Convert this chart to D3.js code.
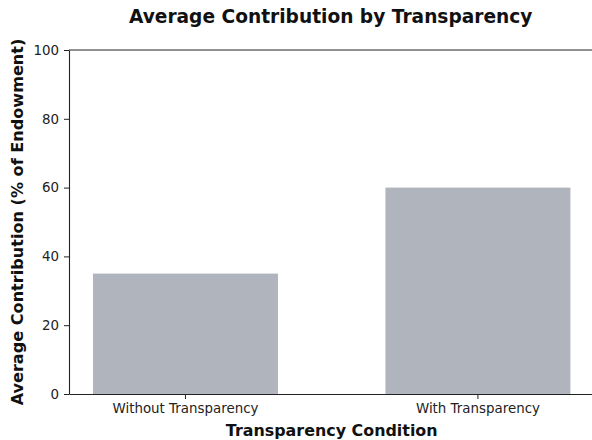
<!DOCTYPE html>
<html>
<head>
<meta charset="utf-8">
<script src="https://cdn.jsdelivr.net/npm/d3@7"></script>
<style>
  body { margin: 0; background: #fff; }
  svg { display: block; font-family: "DejaVu Sans", sans-serif; }
</style>
</head>
<body>
<svg id="chart" width="592" height="440"></svg>
<script>
const categories = [`Without Transparency`, `With Transparency`];
const contributions = [35, 60];
const yTicks = [0, 20, 40, 60, 80, 100];

const width = 592;
const height = 440;
const plotLeft = 69;
const plotRight = 594.4;
const plotTop = 50;
const plotBottom = 394;

const svg = d3.select(`#chart`);

const xScale = d3.scaleBand()
    .domain(categories)
    .range([plotLeft, plotRight])
    .paddingInner(0.3675)
    .paddingOuter(0.082);

const yScale = d3.scaleLinear()
    .domain([0, 100])
    .range([plotBottom, plotTop]);

// bars
svg.append(`g`)
    .selectAll(`rect`)
    .data(categories)
    .enter()
    .append(`rect`)
    .attr(`x`, d => xScale(d))
    .attr(`y`, (d, i) => yScale(contributions[i]))
    .attr(`width`, xScale.bandwidth())
    .attr(`height`, (d, i) => yScale(0) - yScale(contributions[i]))
    .attr(`fill`, `#afb4bd`);

// top spine
svg.append(`line`)
    .attr(`x1`, plotLeft).attr(`x2`, plotRight)
    .attr(`y1`, plotTop).attr(`y2`, plotTop)
    .attr(`stroke`, `#222`).attr(`stroke-width`, 1);

const xAxis = svg.append(`g`)
    .attr(`transform`, `translate(0, ${plotBottom})`)
    .call(d3.axisBottom(xScale).tickSize(5).tickPadding(4).tickSizeOuter(0));

const yAxis = svg.append(`g`)
    .attr(`transform`, `translate(${plotLeft}, 0)`)
    .call(d3.axisLeft(yScale).tickValues(yTicks).tickSize(5).tickPadding(5).tickSizeOuter(0));

[xAxis, yAxis].forEach(ax => {
    ax.select(`.domain`).attr(`stroke`, `#222`).attr(`stroke-width`, 1.1);
    ax.selectAll(`.tick line`).attr(`stroke`, `#222`);
    ax.selectAll(`.tick text`)
        .attr(`fill`, `#222`)
        .style(`font-family`, `"DejaVu Sans", sans-serif`)
        .style(`font-size`, `13.4px`);
});

svg.append(`text`)
    .attr(`x`, (plotLeft + plotRight) / 2 - 1)
    .attr(`y`, 23)
    .attr(`text-anchor`, `middle`)
    .attr(`font-weight`, `bold`)
    .attr(`font-size`, `18.6px`)
    .attr(`fill`, `#111`)
    .text(`Average Contribution by Transparency`);

svg.append(`text`)
    .attr(`x`, (plotLeft + plotRight) / 2)
    .attr(`y`, 436)
    .attr(`text-anchor`, `middle`)
    .attr(`font-weight`, `bold`)
    .attr(`font-size`, `15.9px`)
    .attr(`fill`, `#111`)
    .text(`Transparency Condition`);

svg.append(`text`)
    .attr(`transform`, `translate(23, ${(plotTop + plotBottom) / 2}) rotate(-90)`)
    .attr(`text-anchor`, `middle`)
    .attr(`font-weight`, `bold`)
    .attr(`font-size`, `16.1px`)
    .attr(`fill`, `#111`)
    .text(`Average Contribution (% of Endowment)`);
</script>
</body>
</html>
